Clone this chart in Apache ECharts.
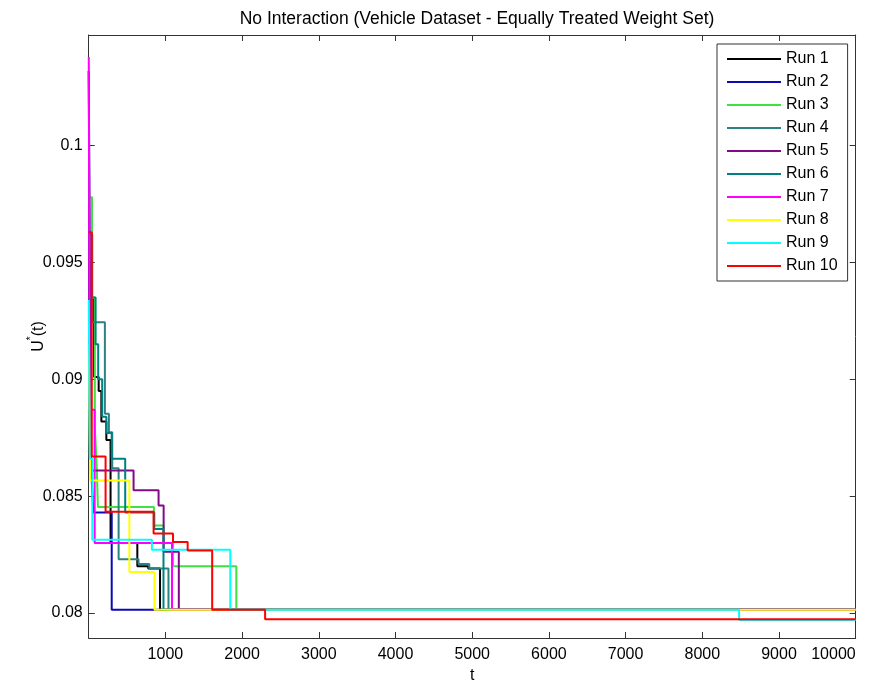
<!DOCTYPE html>
<html>
<head>
<meta charset="utf-8">
<script src="https://cdn.jsdelivr.net/npm/echarts@6/dist/echarts.min.js"></script>
<style>
html,body{margin:0;padding:0;background:#fff;}
#c{width:884px;height:689px;}
</style>
</head>
<body>
<div id="c"></div>
<script>
// ---- data (t, U*(t)) breakpoints, step functions ----
const runNames = ['Run 1','Run 2','Run 3','Run 4','Run 5','Run 6','Run 7','Run 8','Run 9','Run 10'];
const run1 = [[1,0.0934],[70,0.0901],[130,0.0895],[165,0.0882],[230,0.0874],[285,0.0830],[634,0.0820],[776,0.0819],[930,0.08014],[10000,0.08014]];
const run2 = [[1,0.1032],[20,0.0880],[35,0.0860],[60,0.0843],[300,0.08014],[10000,0.08014]];
const run3 = [[1,0.0978],[43,0.0935],[80,0.0880],[105,0.0862],[120,0.08454],[850,0.08375],[975,0.0830],[1100,0.0820],[1925,0.08014],[10000,0.08014]];
const run4 = [[1,0.0962],[46,0.09245],[211,0.08853],[263,0.08774],[307,0.0862],[390,0.0823],[650,0.0821],[790,0.0819],[1040,0.08014],[10000,0.08014]];
const run5 = [[1,0.1032],[25,0.0861],[585,0.08525],[911,0.0846],[977,0.08262],[1175,0.08014],[10000,0.08014]];
const run6 = [[1,0.0935],[90,0.0915],[124,0.0900],[176,0.0884],[230,0.0877],[300,0.0866],[476,0.0843],[855,0.0836],[975,0.08014],[10000,0.08014]];
const run7 = [[1,0.1038],[12,0.0887],[78,0.0830],[1086,0.08014],[10000,0.08014]];
const run8 = [[1,0.0915],[20,0.08567],[530,0.08176],[858,0.08014],[10000,0.08014]];
const run9 = [[1,0.0934],[15,0.0866],[47,0.08314],[824,0.08271],[1846,0.08014],[8480,0.0797],[10000,0.0797]];
const run10 = [[1,0.0963],[40,0.0867],[220,0.08433],[846,0.0834],[1099,0.08304],[1290,0.08268],[1610,0.08014],[2300,0.07973],[10000,0.07973]];
const runs = [run1,run2,run3,run4,run5,run6,run7,run8,run9,run10];
const runColors = ['#000000','#0a0ab4','#3fe03f','#2a8282','#800a88','#008080','#ff00ff','#ffff00','#00ffff','#ff0000'];
const xTicks = [0,1000,2000,3000,4000,5000,6000,7000,8000,9000,10000];
const yTicks = [0.08,0.085,0.09,0.095,0.1];
const yTickLabels = ['0.08','0.085','0.09','0.095','0.1'];

const FONT = 'Liberation Sans, Arial, sans-serif';
const AX = '#333333';
const chart = echarts.init(document.getElementById('c'), null, {renderer:'canvas'});

const series = runs.map((d,i)=>({
  name: runNames[i], type:'line', step:'end', data:d, symbol:'none', showSymbol:false,
  xAxisIndex:0, yAxisIndex:0, animation:false, silent:true,
  lineStyle:{color:runColors[i], width:2}, itemStyle:{color:runColors[i]}, z: 2+i
}));

const yMin = 0.07893, yMax = 0.10474;
chart.setOption({
  animation:false,
  backgroundColor:'#ffffff',
  title:{text:'No Interaction (Vehicle Dataset - Equally Treated Weight Set)', left:472, top:5, textAlign:'center',
    textStyle:{fontFamily:FONT, fontSize:17.5, fontWeight:'normal', color:'#000'}},
  grid:{left:88.7, right:28.3, top:35, bottom:49.7, containLabel:false},
  legend:{orient:'vertical', left:717, top:44, padding:[7,10,7,10], itemWidth:54, itemHeight:2, itemGap:7,
    icon:'rect',
    backgroundColor:'#fff', borderColor:'#333', borderWidth:1, borderRadius:0,
    textStyle:{fontFamily:FONT, fontSize:16, color:'#000', lineHeight:16},
    data: runNames},
  xAxis:[
    {type:'value', min:0, max:10000, interval:1000, position:'bottom',
     name:'t', nameLocation:'middle', nameGap:30, nameMoveOverlap:false, nameTextStyle:{fontFamily:FONT, fontSize:16, color:'#000'},
     axisLine:{show:true, onZero:false, lineStyle:{color:AX}},
     axisTick:{show:true, inside:true, length:6, lineStyle:{color:AX}},
     axisLabel:{fontFamily:FONT, fontSize:16, color:'#000', margin:9, alignMaxLabel:'right', formatter:v=> v===0?'':String(v)},
     splitLine:{show:false}},
    {type:'value', min:0, max:10000, interval:1000, position:'top',
     axisLine:{show:true, onZero:false, lineStyle:{color:AX}},
     axisTick:{show:true, inside:true, length:6, lineStyle:{color:AX}},
     axisLabel:{show:false}, splitLine:{show:false}}
  ],
  yAxis:[
    {type:'value', min:yMin, max:yMax, position:'left',
     name:'{u|U}{s|*}{u|(t)}', nameLocation:'middle', nameRotate:90, nameGap:42, nameMoveOverlap:false,
     nameTextStyle:{fontFamily:FONT, fontSize:16, color:'#000',
       rich:{u:{fontFamily:FONT, fontSize:16, color:'#000', lineHeight:20, verticalAlign:'bottom'},
             s:{fontFamily:FONT, fontSize:10, color:'#000', lineHeight:20, verticalAlign:'top'}}},
     axisLine:{show:true, onZero:false, lineStyle:{color:AX}},
     axisTick:{show:true, inside:true, length:6, lineStyle:{color:AX}, customValues:yTicks},
     axisLabel:{fontFamily:FONT, fontSize:16, color:'#000', margin:6, customValues:yTicks,
       formatter:v=>{const k=yTicks.findIndex(t=>Math.abs(t-v)<1e-9); return k>=0?yTickLabels[k]:'';}},
     splitLine:{show:false}},
    {type:'value', min:yMin, max:yMax, position:'right',
     axisLine:{show:true, onZero:false, lineStyle:{color:AX}},
     axisTick:{show:true, inside:true, length:6, lineStyle:{color:AX}, customValues:yTicks},
     axisLabel:{show:false, customValues:yTicks}, splitLine:{show:false}}
  ],
  series: series
});
</script>
</body>
</html>
